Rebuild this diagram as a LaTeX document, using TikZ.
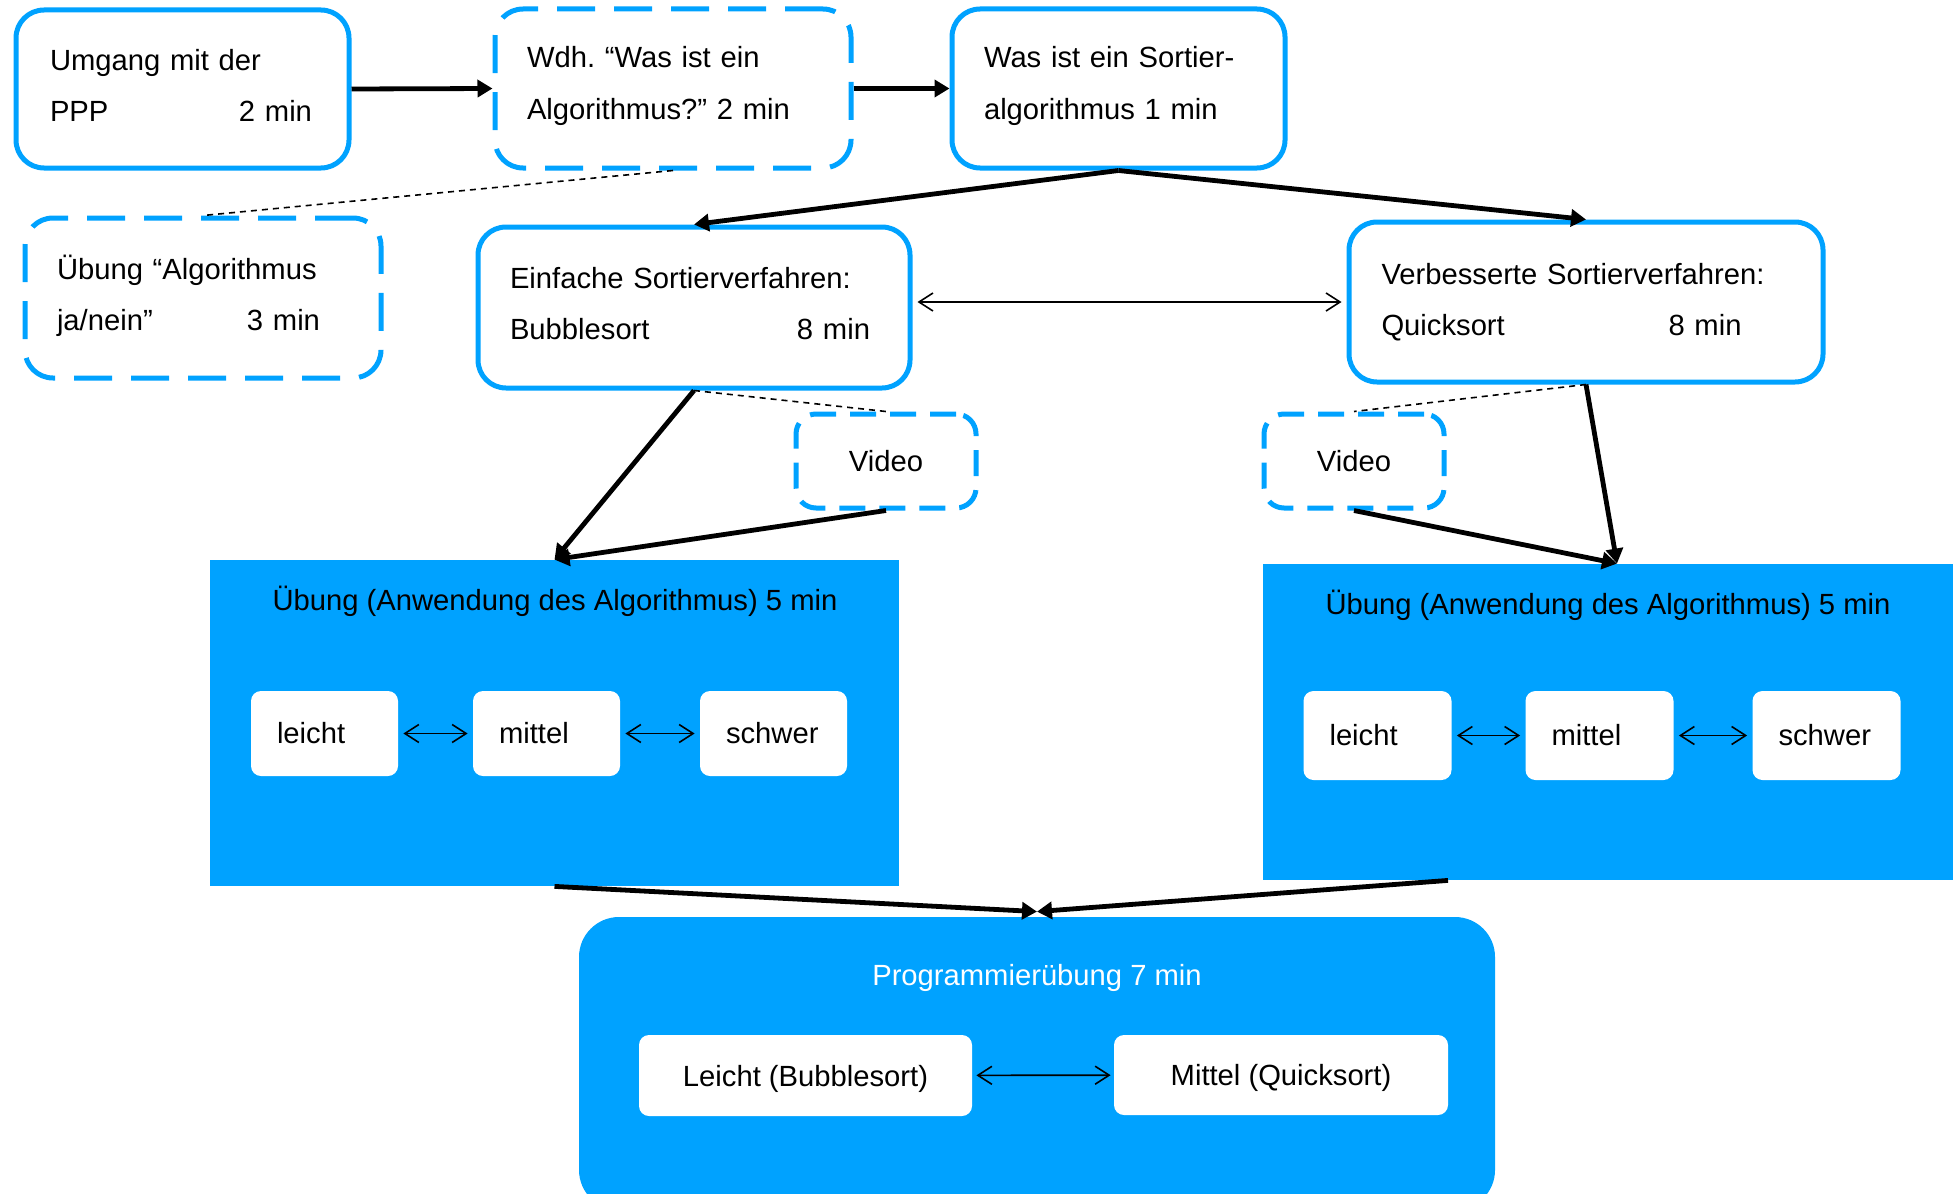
\documentclass[tikz,border=0pt]{standalone}
\usepackage{fontspec}
\setmainfont{Liberation Sans}
\usetikzlibrary{arrows.meta}
\definecolor{azure}{RGB}{0,162,255}
\frenchspacing
\newcommand{\lowdp}[1]{\rule[-#1]{0pt}{#1}}
\begin{document}
\begin{tikzpicture}[x=0.5pt,y=-0.5pt,
 every node/.style={font=\fontsize{14.6}{25.6}\selectfont},
 bbox/.style={draw=azure, line width=2.5pt, rounded corners=14pt, fill=white, align=left, inner ysep=0pt},
 dbox/.style={bbox, dash pattern=on 19pt off 9.5pt},
 vbox/.style={bbox, rounded corners=10pt, dash pattern=on 13pt off 7pt, align=center},
 bigbox/.style={fill=azure, inner sep=0pt},
 wbox/.style={fill=white, rounded corners=5pt, align=left, inner ysep=0pt, inner xsep=13pt},
 pbox/.style={fill=white, rounded corners=5pt, inner sep=0pt, text depth=0pt},
 tarrow/.style={line width=2.4pt, -{Triangle[length=7.5pt,width=8.5pt]}},
 dbl/.style={line width=0.8pt, {Straight Barb[length=7pt,width=9pt]}-{Straight Barb[length=7pt,width=9pt]}, shorten <=2.5pt, shorten >=2.5pt},
 thindash/.style={line width=0.8pt, dash pattern=on 3pt off 2.5pt}
]
\useasboundingbox (0,0) rectangle (1957,1193);
\clip (0,0) rectangle (1957,1193);

% top row
\node[bbox, minimum width=166.5pt, minimum height=79pt, text width=132.5pt, inner xsep=17pt] (A) at (182.5,89)
  {Umgang mit der\\\makebox[131pt][l]{PPP\hfill 2 min}\lowdp{3.5pt}};
\node[dbox, minimum width=178pt, minimum height=79.5pt, text width=146pt, inner xsep=16pt] (B) at (673,88.5)
  {Wdh. “Was ist ein\\Algorithmus?” 2 min\lowdp{5.5pt}};
\node[bbox, minimum width=166.5pt, minimum height=79.5pt, text width=134.5pt, inner xsep=16pt] (C) at (1118.5,88.5)
  {Was ist ein Sortier-\\algorithmus 1 min\lowdp{5.5pt}};

% second row
\node[dbox, minimum width=178pt, minimum height=80pt, text width=146pt, inner xsep=16pt] (D) at (203,298)
  {Übung “Algorithmus\\\makebox[131.5pt][l]{ja/nein”\hfill 3 min}\lowdp{5.5pt}};
\node[bbox, minimum width=216pt, minimum height=80.5pt, text width=184pt, inner xsep=16pt] (E) at (694,307.5)
  {Einfache Sortierverfahren:\\\makebox[180pt][l]{Bubblesort\hfill 8 min}\lowdp{3.7pt}};
\node[bbox, minimum width=237pt, minimum height=80pt, text width=204.5pt, inner xsep=16.25pt] (F) at (1586,302)
  {Verbesserte Sortierverfahren:\\\makebox[180pt][l]{Quicksort\hfill 8 min}\lowdp{2.8pt}};

% videos
\node[vbox, minimum width=90pt, minimum height=47pt] (V1) at (886,461) {Video};
\node[vbox, minimum width=90pt, minimum height=47pt] (V2) at (1354,461) {Video};

% exercise blocks
\node[bigbox, minimum width=344.5pt, minimum height=163pt] (U1) at (554.5,723) {};
\node (U1t) at (555,601) {Übung (Anwendung des Algorithmus) 5 min};
\node[wbox, text width=47.5pt, minimum height=42.5pt] (L1) at (324.5,733.5) {leicht};
\node[wbox, text width=47.5pt, minimum height=42.5pt] (M1) at (546.5,733.5) {mittel};
\node[wbox, text width=47.5pt, minimum height=42.5pt] (S1) at (773.5,733.5) {schwer};

\node[bigbox, minimum width=345pt, minimum height=158pt] (U2) at (1608,722) {};
\node (U2t) at (1608,605) {Übung (Anwendung des Algorithmus) 5 min};
\node[wbox, text width=48pt, minimum height=44.5pt] (L2) at (1377.5,735.5) {leicht};
\node[wbox, text width=48pt, minimum height=44.5pt] (M2) at (1599.5,735.5) {mittel};
\node[wbox, text width=48pt, minimum height=44.5pt] (S2) at (1826.5,735.5) {schwer};

% programming exercise
\node[fill=azure, rounded corners=20pt, minimum width=458pt, minimum height=146.5pt, inner sep=0pt] (P) at (1037,1063.5) {};
\node[text=white] (Pt) at (1037,978) {Programmierübung 7 min};
\node[pbox, minimum width=166.5pt, minimum height=40.5pt] (PL) at (805.5,1075.5) {Leicht (Bubblesort)};
\node[pbox, minimum width=167pt, minimum height=40pt] (PR) at (1281,1075) {Mittel (Quicksort)};

% connectors
\draw[tarrow] (A.east) -- (B.west);
\draw[tarrow] (B.east) -- (C.west);
\draw[thindash] (B.south) -- (D.north);
\draw[tarrow] (C.south) -- (E.north);
\draw[tarrow] (C.south) -- (F.north);
\draw[dbl] (E.east |- F.west) -- (F.west);
\draw[thindash] (E.south) -- (V1.north);
\draw[tarrow] (E.south) -- (U1.north);
\draw[tarrow] (V1.south) -- (U1.north);
\draw[thindash] (F.south) -- (V2.north);
\draw[tarrow] (F.south) -- ([xshift=4.5pt]U2.north);
\draw[tarrow] (V2.south) -- ([xshift=4.5pt]U2.north);
\draw[dbl] (L1) -- (M1);
\draw[dbl] (M1) -- (S1);
\draw[dbl] (L2) -- (M2);
\draw[dbl] (M2) -- (S2);
\draw[tarrow] (U1.south) -- ([yshift=2.5pt]P.north);
\draw[tarrow] ([xshift=-80pt]U2.south) -- ([yshift=2.5pt]P.north);
\draw[dbl, shorten <=2pt, shorten >=1.5pt] (PL) -- (PR);
\end{tikzpicture}
\end{document}
